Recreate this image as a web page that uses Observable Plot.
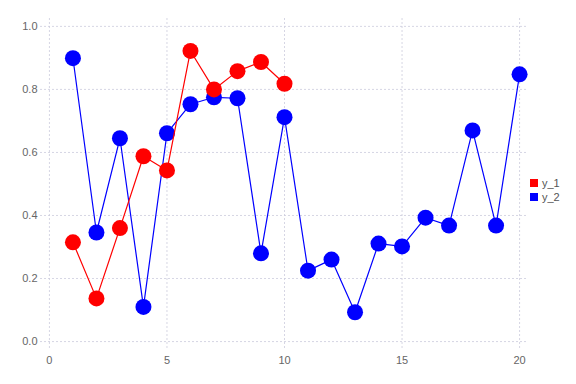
<!DOCTYPE html>
<html>
<head>
<meta charset="utf-8">
<script src="https://cdn.jsdelivr.net/npm/d3@7"></script>
<script src="https://cdn.jsdelivr.net/npm/@observablehq/plot@0.6"></script>
<style>
  html, body { margin: 0; padding: 0; background: #fff; }
  #wrap { position: relative; width: 576px; height: 384px; font-family: "Liberation Sans", Arial, sans-serif; }
  #legend { position: absolute; left: 530px; top: 176px; font-size: 11px; color: #555; line-height: 14px; }
  #legend .sw { display: inline-block; width: 8px; height: 8px; margin-right: 4px; vertical-align: -0px; }
</style>
</head>
<body>
<div id="wrap"><div id="legend"></div></div>
<script>
const seriesNames = ["y_1", "y_2"];
const seriesColors = ["#ff0000", "#0000ff"];
const x1 = [1, 2, 3, 4, 5, 6, 7, 8, 9, 10];
const y1 = [0.315, 0.137, 0.360, 0.588, 0.543, 0.922, 0.800, 0.858, 0.887, 0.818];
const x2 = [1, 2, 3, 4, 5, 6, 7, 8, 9, 10, 11, 12, 13, 14, 15, 16, 17, 18, 19, 20];
const y2 = [0.899, 0.346, 0.645, 0.110, 0.661, 0.753, 0.775, 0.772, 0.280, 0.712,
            0.225, 0.260, 0.093, 0.311, 0.302, 0.393, 0.368, 0.670, 0.368, 0.848];
const xTicks = [0, 5, 10, 15, 20];
const yTicks = [0, 0.2, 0.4, 0.6, 0.8, 1.0];

const d1 = x1.map((x, i) => ({x, y: y1[i], s: seriesNames[0]}));
const d2 = x2.map((x, i) => ({x, y: y2[i], s: seriesNames[1]}));

const chart = Plot.plot({
  width: 576,
  height: 384,
  marginLeft: 40,
  marginRight: 48,
  marginTop: 18,
  marginBottom: 36,
  style: {fontFamily: "'Liberation Sans', Arial, sans-serif", fontSize: "11px", color: "#666", background: "#fff"},
  x: {domain: [-0.38, 20.38], ticks: xTicks, tickFormat: d3.format("d"), label: null, tickSize: 0, tickPadding: 8},
  y: {domain: [-0.022, 1.025], ticks: yTicks, tickFormat: d3.format(".1f"), label: null, tickSize: 0, tickPadding: 3},
  marks: [
    Plot.gridX(xTicks, {stroke: "#ccccdd", strokeOpacity: 0.8, strokeDasharray: "2,2"}),
    Plot.gridY(yTicks, {stroke: "#ccccdd", strokeOpacity: 0.8, strokeDasharray: "2,2"}),
    Plot.line(d2, {x: "x", y: "y", stroke: seriesColors[1], strokeWidth: 1.2}),
    Plot.dot(d2, {x: "x", y: "y", fill: seriesColors[1], r: 8, stroke: "none"}),
    Plot.line(d1, {x: "x", y: "y", stroke: seriesColors[0], strokeWidth: 1.2}),
    Plot.dot(d1, {x: "x", y: "y", fill: seriesColors[0], r: 8, stroke: "none"})
  ]
});
chart.style.position = "absolute";
chart.style.left = "0";
chart.style.top = "0";
const wrap = document.getElementById("wrap");
wrap.insertBefore(chart, wrap.firstChild);

const legend = document.getElementById("legend");
seriesNames.forEach((n, i) => {
  const row = document.createElement("div");
  row.innerHTML = `<span class="sw" style="background:${seriesColors[i]}"></span>${n}`;
  legend.appendChild(row);
});
</script>
</body>
</html>
